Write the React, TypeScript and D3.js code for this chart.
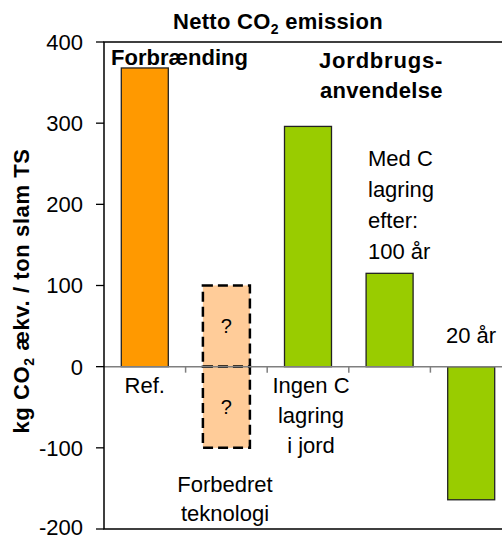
import React from "react";
import { scaleBand, scaleLinear } from "d3";

// categories along the x axis
const categories = ["ref", "forbedret", "ingen", "100aar", "20aar"];
// bar values (kg CO2 aekv. / ton slam TS)
const values = [368, null, 296, 115, -164];
const barColors = ["#FF9900", "#FFCC99", "#99CC00", "#99CC00", "#99CC00"];
// the uncertain "improved technology" bar: upper and lower part
const uncertainParts = [100, -100];
const yTicks = [-200, -100, 0, 100, 200, 300, 400];

const FONT = "'Liberation Sans', Arial, sans-serif";

export default function App() {
  const width = 502;
  const height = 537;
  const left = 104;
  const top = 42;
  const bottom = 529;

  const y = scaleLinear().domain([-200, 400]).range([bottom, top]);
  const x = scaleBand()
    .domain(categories)
    .range([left, 512])
    .paddingInner(0.424)
    .paddingOuter(0.212);
  const step = x.step();
  const cx = (c: string) => (x(c) as number) + x.bandwidth() / 2;

  return (
    <div style={{ position: "absolute", left: 0, top: 0 }}>
      <svg width={width} height={height} style={{ display: "block", fontFamily: FONT }}>
        <rect width={width} height={height} fill="#fff" />

        {/* bars */}
        {categories.map((c, i) => {
          const v = values[i];
          if (v === null) return null;
          return (
            <rect
              key={c}
              x={x(c)}
              y={y(Math.max(0, v))}
              width={x.bandwidth()}
              height={Math.abs(y(v) - y(0))}
              fill={barColors[i]}
              stroke="#222"
              strokeWidth={1.3}
            />
          );
        })}
        {uncertainParts.map((v, i) => (
          <g key={i}>
            <rect
              x={x("forbedret")}
              y={y(Math.max(0, v))}
              width={x.bandwidth()}
              height={Math.abs(y(v) - y(0))}
              fill="#FFCC99"
              stroke="#000"
              strokeWidth={2.5}
              strokeDasharray="10,5"
            />
            <text
              x={cx("forbedret")}
              y={y(v / 2) + 7}
              textAnchor="middle"
              fontSize={20}
            >
              ?
            </text>
          </g>
        ))}

        {/* zero line and category ticks */}
        <line x1={left} x2={width} y1={y(0)} y2={y(0)} stroke="#7f7f7f" strokeWidth={1.5} />
        {[1, 2, 3, 4].map((i) => (
          <line
            key={i}
            x1={left + i * step}
            x2={left + i * step}
            y1={y(0)}
            y2={y(0) + 6}
            stroke="#7f7f7f"
            strokeWidth={1.5}
          />
        ))}

        {/* frame */}
        <path
          d={`M${width},${top}H${left}V${bottom}H${width}`}
          fill="none"
          stroke="#000"
          strokeWidth={1.5}
        />

        {/* y axis */}
        {yTicks.map((t) => (
          <g key={t} transform={`translate(0,${y(t)})`}>
            <line x1={96} x2={left} stroke="#000" strokeWidth={1.3} />
            <text x={83} y={t === -200 ? -2 : 0} dy="0.36em" textAnchor="end" fontSize={22}>
              {t}
            </text>
          </g>
        ))}
        <text
          transform="translate(29,291) rotate(-90)"
          textAnchor="middle"
          fontSize={22}
          fontWeight="bold"
          letterSpacing={0.6}
        >
          kg CO<tspan fontSize={14} dy={5}>2</tspan>
          <tspan dy={-5}> ækv. / ton slam TS</tspan>
        </text>

        {/* title */}
        <text x={278} y={29} textAnchor="middle" fontSize={22} fontWeight="bold" letterSpacing={0.3}>
          Netto CO<tspan fontSize={14} dy={5}>2</tspan>
          <tspan dy={-5}> emission</tspan>
        </text>

        {/* group labels */}
        <text x={111} y={65} fontSize={22} fontWeight="bold">
          Forbrænding
        </text>
        <text x={319} y={68} fontSize={22} fontWeight="bold" letterSpacing={0.8}>
          Jordbrugs-
        </text>
        <text x={320} y={98} fontSize={22} fontWeight="bold" letterSpacing={0.3}>
          anvendelse
        </text>

        {/* annotations */}
        {["Med C", "lagring", "efter:", "100 år"].map((s, i) => (
          <text key={s} x={368} y={166 + i * 31} fontSize={22}>
            {s}
          </text>
        ))}
        <text x={446} y={343} fontSize={22}>
          20 år
        </text>
        <text x={cx("ref")} y={393} textAnchor="middle" fontSize={22}>
          Ref.
        </text>
        {["Ingen C", "lagring", "i jord"].map((s, i) => (
          <text key={s} x={311} y={393 + i * 30} textAnchor="middle" fontSize={22}>
            {s}
          </text>
        ))}
        {["Forbedret", "teknologi"].map((s, i) => (
          <text key={s} x={225} y={492 + i * 29} textAnchor="middle" fontSize={22}>
            {s}
          </text>
        ))}
      </svg>
    </div>
  );
}
